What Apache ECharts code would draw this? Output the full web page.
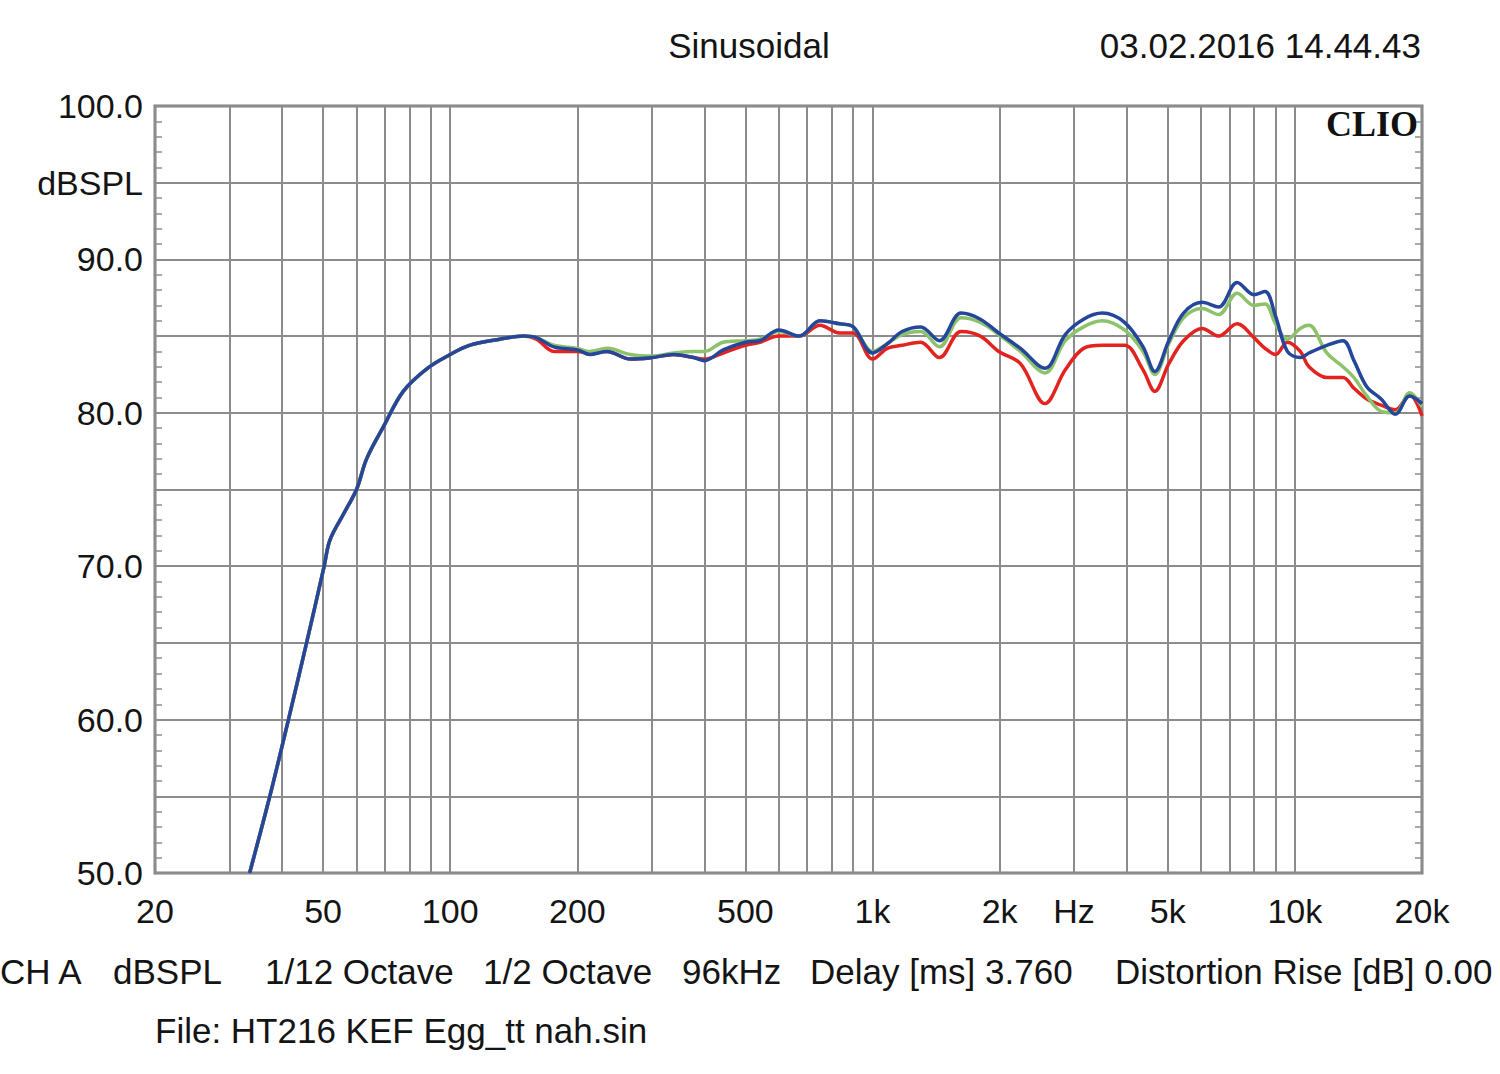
<!DOCTYPE html>
<html><head><meta charset="utf-8">
<script src="https://cdn.jsdelivr.net/npm/echarts@6/dist/echarts.min.js"></script>
<style>html,body{margin:0;padding:0;background:#fff}#c{width:1500px;height:1074px}</style>
</head><body><div id="c"></div>
<script>
// ---- data ----
const freqHz = [33.5, 37.4, 41.4, 45.7, 50.3, 51.9, 55.9, 60, 63.4, 69.5, 77.4, 88.3,
  100, 111, 131, 149, 160, 176,
  200, 214, 235, 267, 300, 338, 377, 400, 443,
  500, 541, 600, 671, 751, 835, 900,
  1000, 1084, 1175, 1300, 1440, 1620, 1800, 1990,
  2240, 2560, 2860, 3160, 3500, 3950, 4370, 4660,
  5030, 5450, 6030, 6600, 7300, 8000, 8500, 9000,
  9600, 10300, 10800, 11900, 13000, 13800, 14800, 16000, 17300, 18700, 20000];
const blueDb = [50, 55, 60, 65, 70, 71.7, 73.4, 75, 77.0, 79.1, 81.4, 82.9,
  83.8, 84.4, 84.8, 85.0, 84.9, 84.3,
  84.1, 83.8, 84.0, 83.5, 83.6, 83.8, 83.6, 83.4, 84.1,
  84.6, 84.7, 85.4, 85.0, 86.0, 85.8, 85.6,
  83.9, 84.5, 85.3, 85.6, 84.7, 86.5, 86.1, 85.2,
  84.2, 82.9, 85.1, 86.1, 86.5, 85.9, 84.3, 82.7,
  84.7, 86.5, 87.2, 86.9, 88.5, 87.7, 87.9, 86.3,
  84.0, 83.6, 83.9, 84.4, 84.7, 83.4, 81.7, 80.9, 79.9, 81.1, 80.6];
const greenDb = [50, 55, 60, 65, 70, 71.7, 73.4, 75, 77.0, 79.1, 81.4, 82.9,
  83.8, 84.4, 84.8, 85.0, 84.9, 84.4,
  84.2, 84.0, 84.2, 83.8, 83.7, 83.9, 84.0, 84.0, 84.6,
  84.7, 84.8, 85.3, 85.0, 86.0, 85.8, 85.6,
  84.0, 84.5, 85.1, 85.3, 84.3, 86.2, 85.9, 85.1,
  84.0, 82.6, 84.7, 85.6, 86.0, 85.4, 84.0, 82.5,
  84.5, 86.2, 86.8, 86.4, 87.8, 87.0, 87.1, 85.8,
  84.8, 85.5, 85.7, 83.9, 83.0, 82.3, 81.1, 80.1, 80.0, 81.3, 80.4];
const redDb = [50, 55, 60, 65, 70, 71.7, 73.4, 75, 77.0, 79.1, 81.4, 82.9,
  83.8, 84.4, 84.8, 85.0, 84.8, 84.0,
  84.0, 83.9, 84.0, 83.5, 83.6, 83.8, 83.6, 83.5, 83.9,
  84.4, 84.6, 85.0, 85.0, 85.7, 85.2, 85.2,
  83.5, 84.2, 84.4, 84.6, 83.6, 85.3, 85.0, 84.0,
  83.2, 80.6, 82.8, 84.2, 84.4, 84.4, 82.8, 81.4,
  83.2, 84.7, 85.5, 85.0, 85.8, 84.9, 84.2, 83.8,
  84.6, 84.0, 83.0, 82.3, 82.3, 81.6, 80.9, 80.5, 80.2, 81.2, 79.8];

const gridFreqs = [20, 30, 40, 50, 60, 70, 80, 90, 100, 200, 300, 400, 500, 600, 700, 800, 900,
  1000, 2000, 3000, 4000, 5000, 6000, 7000, 8000, 9000, 10000, 20000];
const xTickValues = [20, 50, 100, 200, 500, 1000, 2000, 3000, 5000, 10000, 20000];
const xTickTexts = ['20', '50', '100', '200', '500', '1k', '2k', 'Hz', '5k', '10k', '20k'];
const yTickValues = [100, 95, 90, 80, 70, 60, 50];
const yTickTexts = ['100.0', 'dBSPL', '90.0', '80.0', '70.0', '60.0', '50.0'];

const FONT = '"Liberation Sans", Arial, sans-serif';
const TXT = '#141414';
const GRIDC = '#8c8c8c';

function pairs(vals) { return freqHz.map((f, i) => [f, vals[i]]); }
function xLabel(v) { const i = xTickValues.indexOf(v); return i >= 0 ? xTickTexts[i] : ''; }
function yLabel(v) { const i = yTickValues.indexOf(v); return i >= 0 ? yTickTexts[i] : ''; }

const chart = echarts.init(document.getElementById('c'), null, {renderer: 'svg'});

function txt(text, x, y, align, size) {
  return {
    type: 'text', x: x, y: y, silent: true,
    style: {text: text, font: (size || 35) + 'px ' + FONT, fill: TXT, align: align, verticalAlign: 'middle'}
  };
}

const lineBase = {type: 'line', showSymbol: false, symbol: 'none', smooth: 0.35, clip: true, z: 5};

chart.setOption({
  animation: false,
  backgroundColor: '#ffffff',
  grid: {left: 155, top: 106, right: 78, bottom: 201, show: true, borderColor: '#7c7c7c', borderWidth: 3, backgroundColor: 'transparent'},
  xAxis: {type: 'log', logBase: 10, min: 20, max: 20000,
    axisLine: {show: false}, axisTick: {show: false}, axisLabel: {show: false}, splitLine: {show: false}},
  yAxis: [
    {type: 'value', min: 50, max: 100, interval: 5, position: 'left',
      axisLine: {show: false},
      axisTick: {show: true, inside: true, length: 7, lineStyle: {color: GRIDC, width: 1.5}},
      minorTick: {show: true, splitNumber: 5, length: 7, lineStyle: {color: GRIDC, width: 1.5}},
      axisLabel: {show: true, fontSize: 34, fontFamily: FONT, color: TXT, margin: 12, formatter: yLabel},
      splitLine: {show: true, lineStyle: {color: GRIDC, width: 2}}},
    {type: 'value', min: 50, max: 100, interval: 5, position: 'right',
      axisLine: {show: false},
      axisTick: {show: true, inside: true, length: 7, lineStyle: {color: GRIDC, width: 1.5}},
      minorTick: {show: true, splitNumber: 5, length: 7, lineStyle: {color: GRIDC, width: 1.5}},
      axisLabel: {show: false}, splitLine: {show: false}}
  ],
  series: [
    {type: 'line', name: 'grid', data: [[1000, 50]], showSymbol: false, symbol: 'none', lineStyle: {width: 0}, z: 1,
      markLine: {silent: true, symbol: ['none', 'none'], animation: false,
        lineStyle: {color: GRIDC, width: 2, type: 'solid'},
        label: {show: true, position: 'start', distance: 21, fontSize: 34, fontFamily: FONT, color: TXT,
          formatter: p => xLabel(p.value)},
        emphasis: {disabled: true},
        data: gridFreqs.map(f => ({xAxis: f}))}},
    Object.assign({}, lineBase, {name: 'Red', data: pairs(redDb), lineStyle: {color: '#e2231f', width: 3.5}, itemStyle: {color: '#e2231f'}}),
    Object.assign({}, lineBase, {name: 'Green', data: pairs(greenDb), lineStyle: {color: '#8cc26a', width: 3.5}, itemStyle: {color: '#8cc26a'}}),
    Object.assign({}, lineBase, {name: 'Blue', data: pairs(blueDb), lineStyle: {color: '#24469b', width: 3.5}, itemStyle: {color: '#24469b'}})
  ],
  graphic: [
    txt('Sinusoidal', 749, 45, 'center'),
    txt('03.02.2016 14.44.43', 1421, 45, 'right'),
    {type: 'text', x: 1418, y: 124, silent: true, z: 100,
      style: {text: 'CLIO', font: 'bold 36px "Liberation Serif", "DejaVu Serif", serif', fill: '#111', align: 'right', verticalAlign: 'middle'}},
    txt('CH A', 0, 971, 'left'),
    txt('dBSPL', 113, 971, 'left'),
    txt('1/12 Octave', 265, 971, 'left'),
    txt('1/2 Octave', 483, 971, 'left'),
    txt('96kHz', 682, 971, 'left'),
    txt('Delay [ms] 3.760', 810, 971, 'left'),
    txt('Distortion Rise [dB] 0.00', 1115, 971, 'left'),
    txt('File: HT216 KEF Egg_tt nah.sin', 155, 1030, 'left')
  ]
});
</script>
</body></html>
